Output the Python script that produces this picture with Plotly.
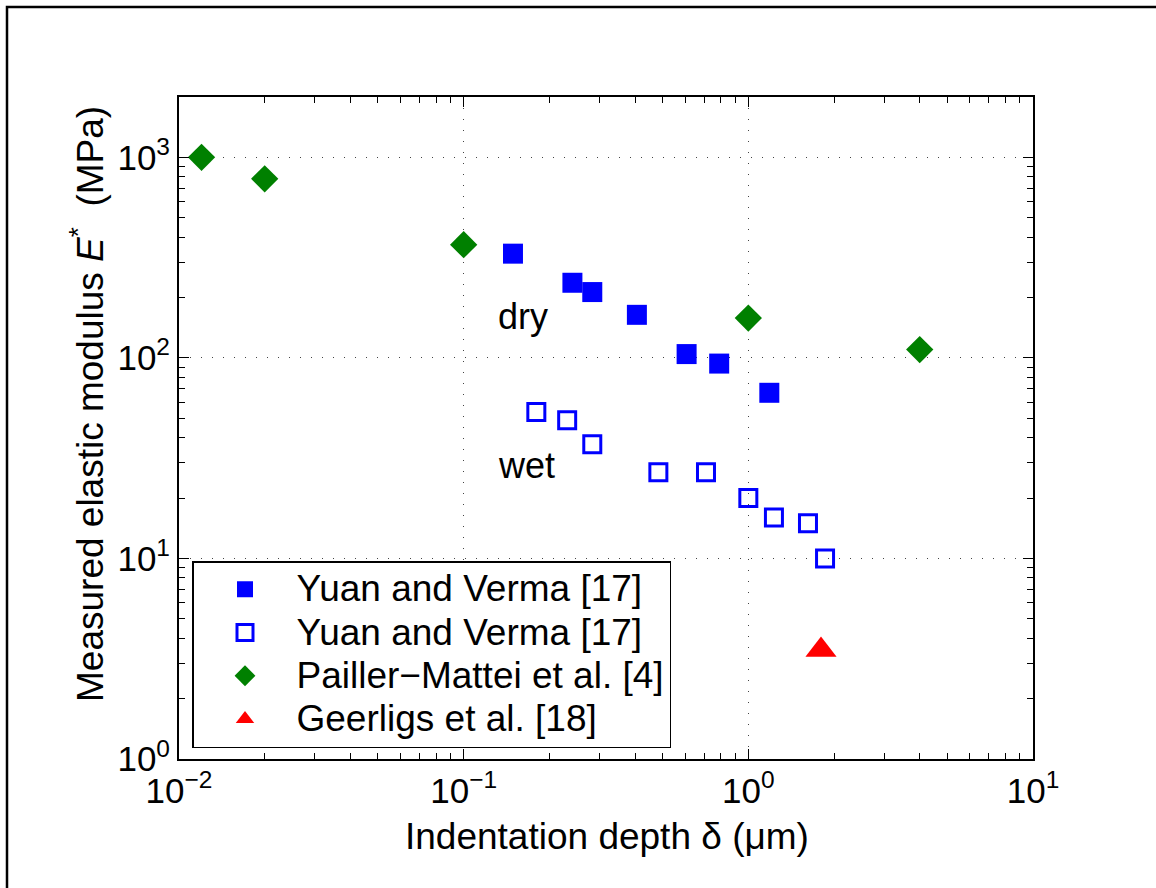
import numpy as np
import plotly.graph_objects as go

# ---- data ----
dry_depth = [0.149, 0.241, 0.283, 0.406, 0.607, 0.79, 1.185]
dry_modulus = [331, 237, 213, 164, 104.5, 93.7, 67]

wet_depth = [0.180, 0.231, 0.283, 0.483, 0.710, 1.0, 1.23, 1.62, 1.86]
wet_modulus = [53.8, 48.9, 37.1, 26.9, 26.9, 20.0, 16.0, 15.0, 10.0]

pm_depth = [0.012, 0.02, 0.1, 1.0, 4.0]
pm_modulus = [1000, 782, 367, 158, 110]

ge_depth = [1.8]
ge_modulus = [3.5]

series_names = ["Yuan and Verma [17]", "Yuan and Verma [17]",
                "Pailler\u2212Mattei et al. [4]", "Geerligs et al. [18]"]

x_tick_vals = [0.01, 0.1, 1, 10]
x_tick_text = ["10<sup>\u22122</sup>", "10<sup>\u22121</sup>", "10<sup>0</sup>", "10<sup>1</sup>"]
y_tick_vals = [1, 10, 100, 1000]
y_tick_text = ["10<sup>0</sup>", "10<sup>1</sup>", "10<sup>2</sup>", "10<sup>3</sup>"]
minor_mantissas = [2, 3, 4, 5, 6, 7, 8, 9]

x_range = [0.01, 10]
y_range = [1, 2000]

labels = [("dry", 0.13, 160), ("wet", 0.13, 29)]

FONT = "Liberation Sans, Arial, Helvetica, sans-serif"
FS = 36
LEGEND_TEXT_FS = 37


def minor_vals(vals):
    return [m * v for v in vals for m in minor_mantissas]


fig = go.Figure()
fig.add_trace(go.Scatter(x=dry_depth, y=dry_modulus, mode="markers", name=series_names[0],
                         marker=dict(symbol="square", size=20, color="#0000ff",
                                     line=dict(width=0))))
fig.add_trace(go.Scatter(x=wet_depth, y=wet_modulus, mode="markers", name=series_names[1],
                         marker=dict(symbol="square-open", size=17, color="#0000ff",
                                     line=dict(width=3, color="#0000ff"))))
fig.add_trace(go.Scatter(x=pm_depth, y=pm_modulus, mode="markers", name=series_names[2],
                         marker=dict(symbol="diamond", size=21, color="#008000",
                                     line=dict(width=0))))
fig.add_trace(go.Scatter(x=ge_depth, y=ge_modulus, mode="markers", name=series_names[3],
                         marker=dict(symbol="triangle-up", size=27, color="#ff0000",
                                     line=dict(width=0))))

# legend text rendered at full size, legend line pitch set by a smaller base size
for tr in fig.data:
    tr.name = '<span style="font-size:%dpx">%s</span>' % (LEGEND_TEXT_FS, tr.name)

axis_common = dict(
    type="log",
    showline=True, linecolor="black", linewidth=2, mirror="allticks",
    ticks="inside", ticklen=10, tickwidth=1, tickcolor="black",
    showgrid=True, gridcolor="#444444", gridwidth=1, griddash="1px,10px",
    zeroline=False,
    tickfont=dict(family=FONT, size=FS - 1, color="black"),
)

fig.update_xaxes(range=[np.log10(x_range[0]), np.log10(x_range[1])],
                 tickmode="array", tickvals=x_tick_vals, ticktext=x_tick_text,
                 minor=dict(ticks="inside", ticklen=6, tickwidth=1, tickcolor="black",
                            tickmode="array", tickvals=minor_vals(x_tick_vals[:-1]),
                            showgrid=False),
                 **axis_common)
fig.update_yaxes(range=[np.log10(y_range[0]), np.log10(y_range[1])],
                 tickmode="array", tickvals=y_tick_vals, ticktext=y_tick_text,
                 minor=dict(ticks="inside", ticklen=6, tickwidth=1, tickcolor="black",
                            tickmode="array", tickvals=minor_vals(y_tick_vals),
                            showgrid=False),
                 **axis_common)

L, R, T, B = 179, 123, 97, 129
W, H = 1156, 888
pw, ph = W - L - R, H - T - B


def px_x(p):
    return (p - L) / pw


def px_y(p):
    return (H - B - p) / ph


annotations = []
for txt, xv, yv in labels:
    annotations.append(dict(x=np.log10(xv), y=np.log10(yv), xref="x", yref="y",
                            text=txt, showarrow=False, xanchor="left", yanchor="middle",
                            font=dict(family=FONT, size=FS, color="black")))
annotations.append(dict(x=px_x(607), y=px_y(836), xref="paper", yref="paper",
                        text="Indentation depth \u03b4 (\u03bcm)", showarrow=False,
                        xanchor="center", yanchor="middle",
                        font=dict(family=FONT, size=FS + 1, color="black")))
annotations.append(dict(x=px_x(87), y=px_y(404), xref="paper", yref="paper",
                        text="Measured elastic modulus <i>E</i><sup>*</sup>\u00a0\u00a0(MPa)",
                        showarrow=False, textangle=-90,
                        xanchor="center", yanchor="middle",
                        font=dict(family=FONT, size=FS + 1, color="black")))

fig.update_layout(
    width=W, height=H,
    margin=dict(l=L, r=R, t=T, b=B),
    paper_bgcolor="white", plot_bgcolor="white",
    font=dict(family=FONT, size=FS, color="black"),
    showlegend=True,
    legend=dict(x=px_x(192), y=px_y(561), xanchor="left", yanchor="top",
                bgcolor="white", bordercolor="black", borderwidth=1.5,
                font=dict(family=FONT, size=31, color="black"),
                itemwidth=93, tracegroupgap=0),
    annotations=annotations,
    shapes=[dict(type="rect", xref="paper", yref="paper",
                 x0=px_x(7), x1=px_x(1300), y0=px_y(7), y1=px_y(1000),
                 line=dict(color="black", width=2.5), fillcolor="rgba(0,0,0,0)",
                 layer="above")],
)

fig.write_html("out.html")
